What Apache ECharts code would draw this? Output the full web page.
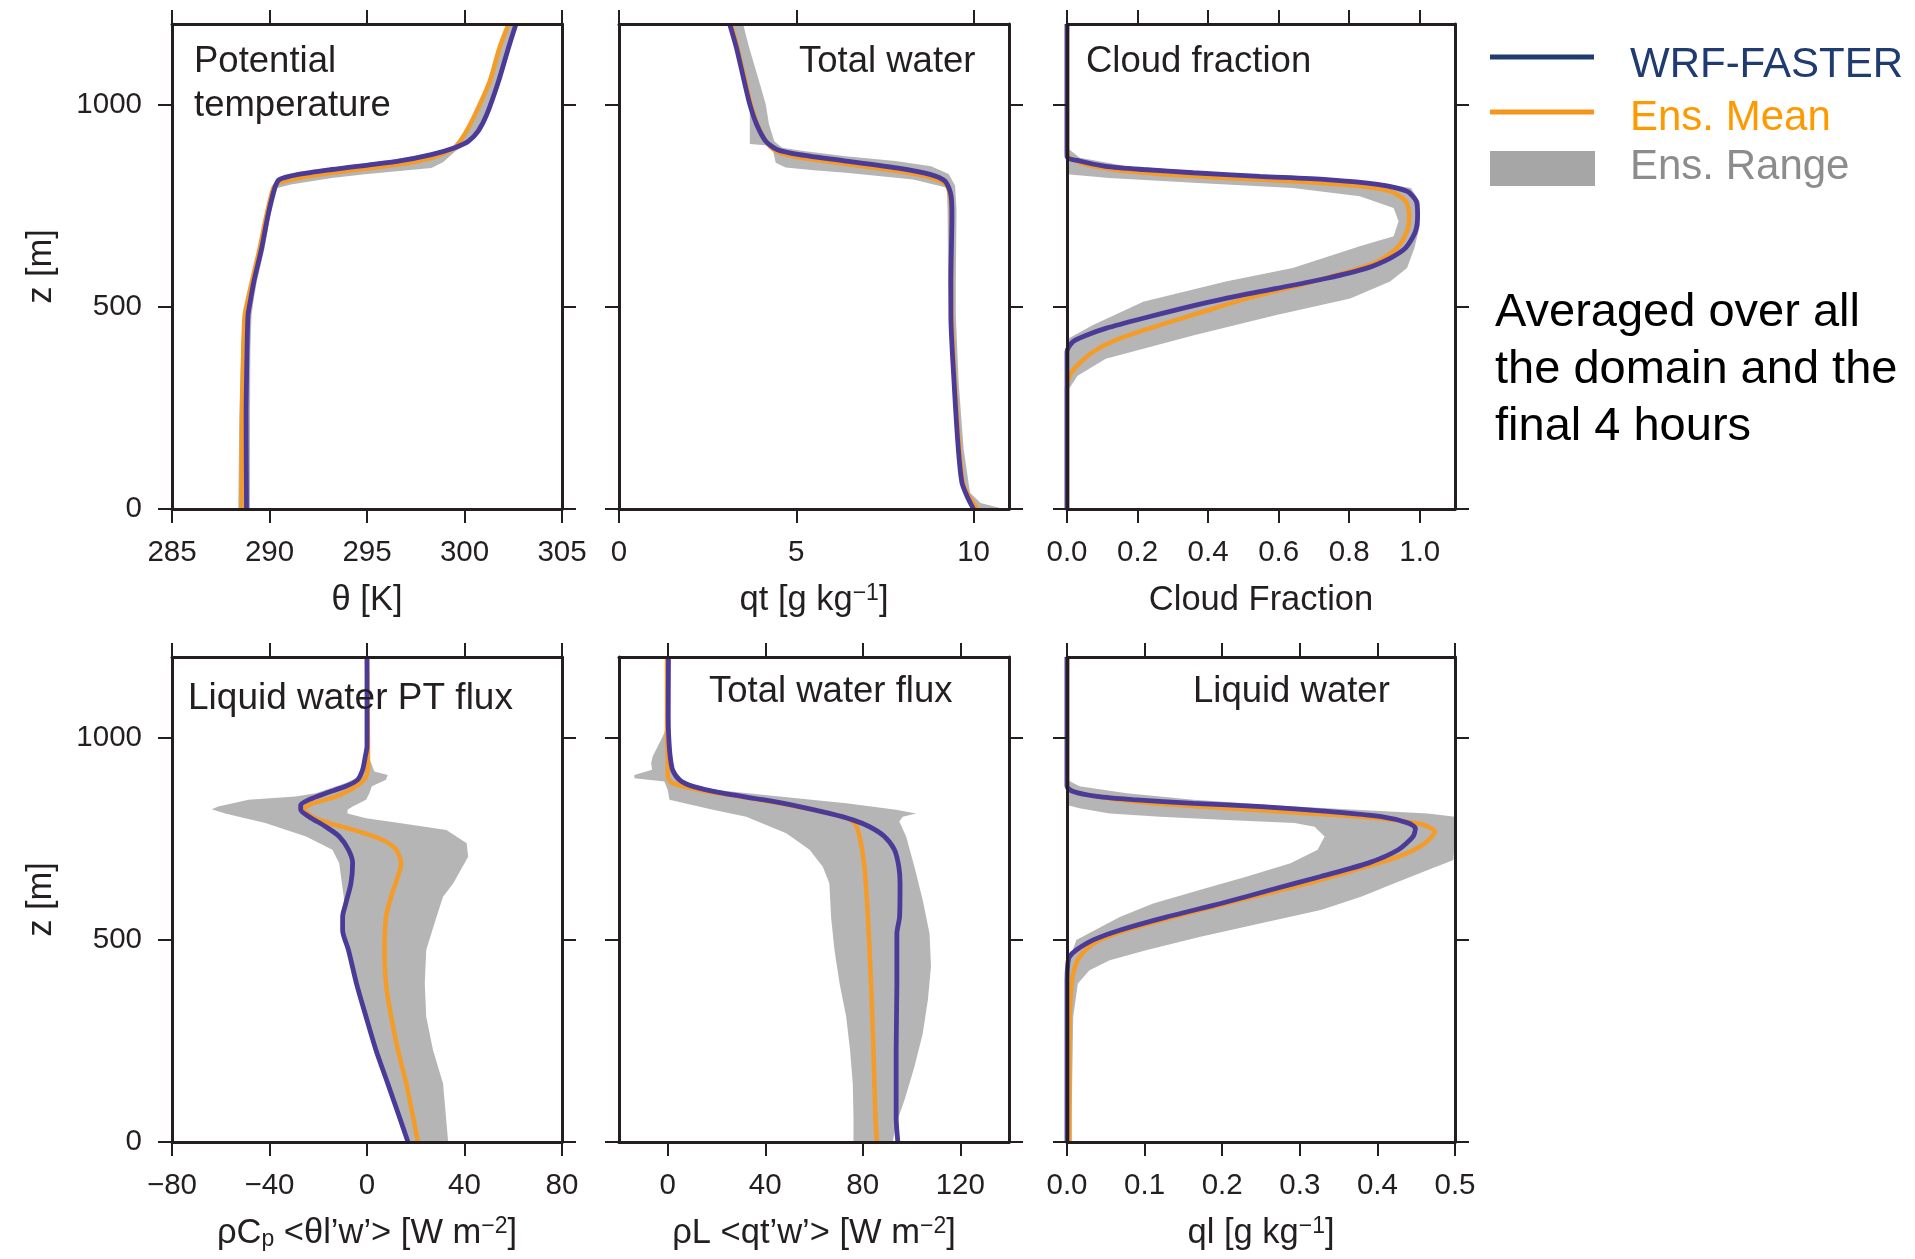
<!DOCTYPE html>
<html>
<head>
<meta charset="utf-8">
<script src="https://cdn.jsdelivr.net/npm/echarts@6/dist/echarts.min.js"></script>
<style>html,body{margin:0;padding:0;background:#fff}#c{width:1915px;height:1259px}</style>
</head>
<body>
<div id="c"></div>
<script>
// ---------------- DATA (x value, z [m]) ----------------
const zTicks = [0, 500, 1000];
const xTicksTheta = [285, 290, 295, 300, 305];
const xTicksQt = [0, 5, 10];
const xTicksCf = [0, 0.2, 0.4, 0.6, 0.8, 1.0];
const xTicksThlFlux = [-80, -40, 0, 40, 80];
const xTicksQtFlux = [0, 40, 80, 120];
const xTicksQl = [0, 0.1, 0.2, 0.3, 0.4, 0.5];

// Potential temperature [K]
const thetaWRF = [[288.82,0],[288.8,232],[288.85,397],[288.9,480],[289.04,521],[289.2,563],[289.6,646],[289.93,728],[290.27,794],[290.5,815],[291.5,828],[293.2,840],[296.6,861],[298.3,877],[299.5,894],[300.2,910],[300.7,935],[301.15,977],[301.75,1059],[302.26,1142],[302.64,1200]];
const thetaMean = [[288.56,0],[288.6,232],[288.66,397],[288.73,480],[288.9,521],[289.1,563],[289.5,646],[289.85,728],[290.2,794],[290.45,807],[291.5,819],[293.2,832],[296.6,852],[298.3,869],[299.5,894],[300.0,927],[300.55,977],[301.3,1059],[301.8,1142],[302.26,1200]];
const thetaMin = [[288.4,0],[288.45,232],[288.55,397],[288.65,480],[288.85,521],[289.05,563],[289.45,646],[289.8,728],[290.15,794],[290.35,818],[291.4,832],[293.2,845],[296.6,866],[298.3,881],[299.4,897],[299.95,927],[300.5,977],[301.25,1059],[301.75,1142],[302.2,1200]];
const thetaMax = [[289.0,0],[289.0,232],[289.02,397],[289.08,480],[289.2,521],[289.35,563],[289.75,646],[290.05,728],[290.4,794],[291.1,803],[293.2,819],[294.9,828],[298.3,844],[298.9,858],[299.5,884],[300.3,910],[300.8,935],[301.25,977],[301.85,1059],[302.35,1142],[302.75,1200]];

// Total water [g/kg]
const qtWRF = [[10.0,0],[9.81,33],[9.67,66],[9.57,149],[9.45,314],[9.36,480],[9.36,563],[9.39,728],[9.36,778],[9.2,811],[8.77,828],[7.83,844],[6.41,861],[5.09,877],[4.47,889],[4.14,910],[3.88,952],[3.69,1001],[3.53,1059],[3.31,1142],[3.12,1200]];
const qtMean = [[10.1,0],[9.86,33],[9.7,66],[9.6,149],[9.47,314],[9.38,480],[9.37,563],[9.38,728],[9.33,778],[9.22,803],[8.8,820],[7.85,836],[6.45,853],[5.15,869],[4.5,882],[4.18,905],[3.9,952],[3.72,1001],[3.56,1059],[3.34,1142],[3.16,1200]];
const qtMin = [[9.95,0],[9.76,33],[9.62,66],[9.52,149],[9.4,314],[9.31,480],[9.28,563],[9.27,728],[9.25,795],[8.3,815],[6.4,832],[5.5,838],[4.7,845],[4.42,857],[4.36,880],[4.3,899],[3.69,903],[3.69,1001],[3.5,1059],[3.28,1142],[3.1,1200]];
const qtMax = [[10.85,0],[10.2,15],[9.9,40],[9.72,149],[9.58,314],[9.5,480],[9.5,563],[9.52,740],[9.48,800],[9.3,829],[8.8,848],[7.8,861],[6.4,873],[5.2,886],[4.6,894],[4.38,910],[4.23,952],[4.14,1001],[3.95,1059],[3.67,1142],[3.5,1200]];

// Cloud fraction
const cfWRF = [[0,0],[0,389],[0.017,414],[0.055,430],[0.11,447],[0.216,472],[0.33,497],[0.45,521],[0.595,546],[0.737,571],[0.85,596],[0.917,621],[0.96,646],[0.988,687],[0.994,728],[0.99,762],[0.964,786],[0.88,803],[0.737,815],[0.547,823],[0.358,832],[0.216,840],[0.11,848],[0.036,861],[0,873],[0,1200]];
const cfMean = [[0,0],[0,298],[0.008,331],[0.03,356],[0.074,389],[0.15,422],[0.263,455],[0.386,488],[0.51,521],[0.66,554],[0.8,588],[0.88,612],[0.936,646],[0.964,687],[0.97,728],[0.96,762],[0.917,786],[0.83,799],[0.64,811],[0.45,819],[0.263,829],[0.13,840],[0.055,852],[0.017,865],[0,877],[0,1200]];
const cfMin = [[0,290],[0,420],[0.074,455],[0.216,513],[0.45,563],[0.64,596],[0.83,650],[0.926,675],[0.94,712],[0.926,745],[0.83,774],[0.64,794],[0.358,807],[0.12,819],[0,828]];
const cfMax = [[0,290],[0.03,330],[0.11,372],[0.36,430],[0.594,480],[0.803,521],[0.916,563],[0.964,596],[0.985,646],[1.0,700],[1.0,760],[0.975,794],[0.84,811],[0.5,828],[0.17,848],[0.036,869],[0,894]];

// Liquid water potential temperature flux [W/m2]
const thlFluxWRF = [[16.8,0],[13.3,62],[8.5,145],[3.7,227],[-0.4,310],[-4.3,392],[-7.6,475],[-10,524],[-10,557],[-8.7,590],[-6.6,640],[-5.9,690],[-7.6,723],[-11.4,756],[-16.9,780],[-23.8,805],[-27.2,822],[-27.2,834],[-23.8,847],[-16.9,863],[-8.7,880],[-3.9,896],[-1.8,921],[-0.7,954],[0,979],[0,1200]];
const thlFluxMean = [[20.9,0],[16.1,145],[12.7,227],[9.9,310],[7.8,392],[7.2,475],[7.8,557],[9.9,607],[12.7,657],[14,690],[12,723],[6.5,747],[-3.2,768],[-15.5,789],[-22.4,805],[-25.9,822],[-23.8,834],[-12.8,855],[-4.5,880],[-0.4,904],[0.4,937],[0.4,979],[0,1200]];
const thlFluxMin = [[16.5,0],[13,62],[8.2,145],[3.4,227],[-0.7,310],[-4.6,392],[-8,475],[-10.4,524],[-10.4,557],[-9.4,600],[-11.4,690],[-14.2,723],[-25,756],[-41.7,789],[-58.2,813],[-63.7,823],[-61,830],[-48.6,847],[-29.3,855],[-21,863],[-8.7,888],[-3.1,904],[-0.4,946],[0,979],[0,1200]];
const thlFluxMax = [[33.3,0],[31.2,145],[27.1,227],[24.3,310],[23.7,392],[24.3,475],[28.5,557],[31.2,607],[35.4,640],[41.5,706],[40.9,739],[32.6,772],[13.3,789],[-0.4,801],[-8,813],[-8,822],[-5.9,830],[-0.4,847],[1,863],[2,880],[7.8,896],[8.5,908],[3,917],[1.2,946],[0.8,979],[0.3,995],[0,1200]];

// Total water flux [W/m2]
const qtFluxWRF = [[94.4,0],[93.7,62],[93.7,227],[94,392],[94,516],[95.1,557],[95.3,640],[94.8,681],[93,723],[88.9,756],[82.8,780],[75.9,797],[66.3,813],[54,830],[39,847],[22.6,863],[10.3,880],[4.8,896],[2,921],[1,954],[0.4,1003],[0.2,1053],[0.3,1200]];
const qtFluxMean = [[85.8,0],[85.2,62],[84.4,227],[83.4,392],[82.1,557],[80.7,681],[78.7,756],[76.6,789],[71.8,805],[59.5,822],[45.8,838],[29.4,855],[13,871],[2,888],[0,904],[0,946],[-0.3,1003],[-0.3,1200]];
const qtFluxMin = [[76.2,0],[76.2,62],[75.9,145],[74.8,227],[73.2,310],[70.5,392],[68.4,475],[67,557],[66.3,640],[63.6,681],[58.2,723],[48.6,764],[32.2,805],[18.5,822],[0.7,847],[0,871],[-1.4,892],[-13.7,900],[-13.7,908],[-6.4,921],[-6.8,937],[-6.2,954],[-3.4,987],[-1.4,1012],[0,1050],[0,1200]];
const qtFluxMax = [[92.3,0],[93.7,45],[97.1,103],[101.2,186],[104.6,268],[106.7,351],[108,434],[107.4,516],[104.6,599],[101.2,681],[97.8,756],[95,793],[96.4,805],[101.9,813],[93.7,822],[73.2,838],[45.8,855],[20,871],[12,880],[6.2,896],[2.7,921],[1.4,970],[0.7,1036],[0.5,1200]];

// Liquid water [g/kg]
const qlWRF = [[0,0],[0,400],[0.001,440],[0.003,458],[0.012,475],[0.034,500],[0.068,524],[0.129,557],[0.198,590],[0.263,624],[0.327,657],[0.388,690],[0.427,723],[0.446,756],[0.449,776],[0.44,789],[0.405,805],[0.336,818],[0.25,830],[0.163,838],[0.085,847],[0.038,855],[0.008,867],[0,880],[0,1200]];
const qlMean = [[0.003,0],[0.003,145],[0.0035,310],[0.006,392],[0.009,425],[0.016,458],[0.034,491],[0.064,516],[0.107,541],[0.172,574],[0.241,607],[0.31,640],[0.37,673],[0.427,706],[0.461,739],[0.474,768],[0.459,785],[0.4,801],[0.314,813],[0.206,826],[0.111,838],[0.051,851],[0.016,863],[0,880],[0,1200]];
const qlMin = [[0,0],[0,434],[0.012,500],[0.068,557],[0.111,590],[0.172,624],[0.232,657],[0.288,690],[0.323,723],[0.332,756],[0.319,780],[0.293,789],[0.206,797],[0.12,805],[0.055,813],[0.016,826],[0,834]];
const qlMax = [[0.006,0],[0.006,62],[0.008,310],[0.014,392],[0.029,425],[0.055,450],[0.103,475],[0.172,508],[0.25,541],[0.327,574],[0.379,607],[0.422,640],[0.465,673],[0.498,698],[0.5,756],[0.5,805],[0.465,813],[0.293,830],[0.163,847],[0.077,863],[0.016,880],[0,896]];

// ---------------- STYLE / LAYOUT ----------------
const FONT = 'Liberation Sans, Arial, Helvetica, sans-serif';
const INK = '#231f20';
const C_WRF = '#4b3a97', C_MEAN = '#f49b28', C_RANGE = '#b5b5b5';
const GL = [172, 619, 1067], GW = [390, 390, 388];
const GT = [24, 657], GH = [485, 485];

const panels = [
  {xMin:285, xMax:305, ticks:xTicksTheta, dec:0, name:'θ [K]', wrf:thetaWRF, mean:thetaMean, lo:thetaMin, hi:thetaMax},
  {xMin:0, xMax:11, ticks:xTicksQt, dec:0, name:'{t|qt [g kg}{sup|\u22121}{t|]}', wrf:qtWRF, mean:qtMean, lo:qtMin, hi:qtMax},
  {xMin:0, xMax:1.1, ticks:xTicksCf, dec:1, name:'Cloud Fraction', wrf:cfWRF, mean:cfMean, lo:cfMin, hi:cfMax},
  {xMin:-80, xMax:80, ticks:xTicksThlFlux, dec:0, name:'{t|\u03c1C}{sub|p}{t| <\u03b8l\u2019w\u2019> [W m}{sup|\u22122}{t|]}', wrf:thlFluxWRF, mean:thlFluxMean, lo:thlFluxMin, hi:thlFluxMax},
  {xMin:-20, xMax:140, ticks:xTicksQtFlux, dec:0, name:'{t|\u03c1L <qt\u2019w\u2019> [W m}{sup|\u22122}{t|]}', wrf:qtFluxWRF, mean:qtFluxMean, lo:qtFluxMin, hi:qtFluxMax},
  {xMin:0, xMax:0.5, ticks:xTicksQl, dec:1, name:'{t|ql [g kg}{sup|\u22121}{t|]}', wrf:qlWRF, mean:qlMean, lo:qlMin, hi:qlMax}
];

function fmt(v, dec) {
  const s = Math.abs(v).toFixed(dec);
  return v < 0 ? '\u2212' + s : s;
}

const nameStyle = {
  fontSize: 34.5, color: INK, fontFamily: FONT, lineHeight: 36,
  rich: {
    t: {fontSize: 34.5, color: INK, fontFamily: FONT, lineHeight: 36},
    sup: {fontSize: 23, color: INK, fontFamily: FONT, lineHeight: 22, verticalAlign: 'top'},
    sub: {fontSize: 23, color: INK, fontFamily: FONT, lineHeight: 10, verticalAlign: 'bottom'}
  }
};

const grid = [], xAxis = [], yAxis = [], series = [];
const axLine = {show: true, onZero: false, lineStyle: {color: INK, width: 3}};
const mkTick = vals => ({show: true, inside: false, length: 14, lineStyle: {color: INK, width: 2}, customValues: vals});

panels.forEach((p, i) => {
  const r = Math.floor(i / 3), c = i % 3;
  grid.push({left: GL[c], top: GT[r], width: GW[c], height: GH[r], containLabel: false});
  xAxis.push({
    type: 'value', gridIndex: i, position: 'bottom', min: p.xMin, max: p.xMax, z: 10,
    axisLine: axLine, axisTick: mkTick(p.ticks), splitLine: {show: false},
    axisLabel: {show: true, customValues: p.ticks, formatter: v => fmt(v, p.dec), fontSize: 29.5, color: INK, fontFamily: FONT, margin: 29},
    name: p.name, nameLocation: 'middle', nameGap: 73, nameTextStyle: nameStyle
  });
  xAxis.push({
    type: 'value', gridIndex: i, position: 'top', min: p.xMin, max: p.xMax, z: 10,
    axisLine: axLine, axisTick: mkTick(p.ticks), splitLine: {show: false}, axisLabel: {show: false}
  });
  yAxis.push({
    type: 'value', gridIndex: i, position: 'left', min: 0, max: 1200, z: 10,
    axisLine: axLine, axisTick: mkTick(zTicks), splitLine: {show: false},
    axisLabel: {show: c === 0, customValues: zTicks, formatter: v => String(v), fontSize: 29.5, color: INK, fontFamily: FONT, margin: 30},
    name: c === 0 ? 'z [m]' : '', nameLocation: 'middle', nameRotate: 90, nameGap: 113, nameTextStyle: nameStyle
  });
  yAxis.push({
    type: 'value', gridIndex: i, position: 'right', min: 0, max: 1200, z: 10,
    axisLine: axLine, axisTick: mkTick(zTicks), splitLine: {show: false}, axisLabel: {show: false}
  });
  const lo = p.lo, hi = p.hi;
  series.push({
    type: 'custom', xAxisIndex: 2 * i, yAxisIndex: 2 * i, z: 1, silent: true, clip: true,
    data: [lo[0]],
    renderItem: (params, api) => {
      const pts = lo.map(q => api.coord(q)).concat(hi.slice().reverse().map(q => api.coord(q)));
      const cs = params.coordSys;
      return {
        type: 'polygon', shape: {points: pts},
        style: {fill: C_RANGE},
        clipPath: {type: 'rect', shape: {x: cs.x, y: cs.y, width: cs.width, height: cs.height}}
      };
    }
  });
  series.push({
    type: 'line', xAxisIndex: 2 * i, yAxisIndex: 2 * i, data: p.mean, showSymbol: false, smooth: 0.25,
    lineStyle: {color: C_MEAN, width: 4.5}, z: 3, silent: true
  });
  series.push({
    type: 'line', xAxisIndex: 2 * i, yAxisIndex: 2 * i, data: p.wrf, showSymbol: false, smooth: 0.25,
    lineStyle: {color: C_WRF, width: 4.8}, z: 4, silent: true
  });
});

function txt(text, x, y, size, fill, extra) {
  return {
    type: 'text', z: 20, silent: true,
    style: Object.assign({text: text, x: x, y: y, font: size + 'px ' + FONT, fill: fill,
      textAlign: 'left', align: 'left', textVerticalAlign: 'middle', verticalAlign: 'middle'}, extra || {})
  };
}

const graphics = [
  // panel titles
  txt('Potential', 194, 62, 36.5, INK),
  txt('temperature', 194, 106, 36.5, INK),
  txt('Total water', 799, 62, 36.5, INK),
  txt('Cloud fraction', 1086, 62, 36.5, INK),
  txt('Liquid water PT flux', 188, 699, 37, INK),
  txt('Total water flux', 709, 692, 36.5, INK),
  txt('Liquid water', 1193, 692, 36.5, INK),
  // legend
  {type: 'line', z: 20, silent: true, shape: {x1: 1490, y1: 57, x2: 1594, y2: 57}, style: {stroke: '#1f3b6f', lineWidth: 5}},
  {type: 'line', z: 20, silent: true, shape: {x1: 1490, y1: 112, x2: 1594, y2: 112}, style: {stroke: '#f7941d', lineWidth: 5}},
  {type: 'rect', z: 20, silent: true, shape: {x: 1490, y: 151, width: 105, height: 35}, style: {fill: '#a6a6a6'}},
  txt('WRF-FASTER', 1630, 65, 42, '#1f3b6f'),
  txt('Ens. Mean', 1630, 118, 42, '#ff9900'),
  txt('Ens. Range', 1630, 167, 42, '#8c8c8c'),
  // annotation
  txt('Averaged over all\nthe domain and the\nfinal 4 hours', 1495, 285, 47, '#000000',
      {textVerticalAlign: 'top', verticalAlign: 'top', lineHeight: 57})
];

const chart = echarts.init(document.getElementById('c'), null, {renderer: 'canvas'});
chart.setOption({
  animation: false,
  backgroundColor: '#ffffff',
  grid: grid, xAxis: xAxis, yAxis: yAxis, series: series,
  graphic: {elements: graphics}
});
</script>
</body>
</html>
